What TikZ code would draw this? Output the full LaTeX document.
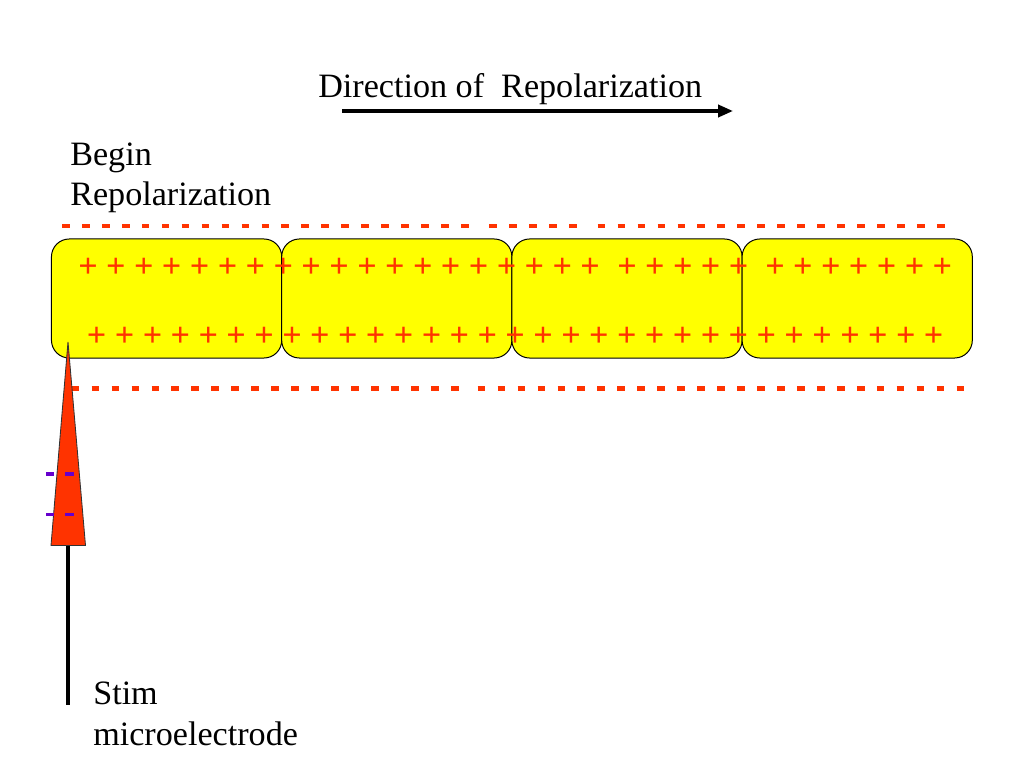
\documentclass[tikz,border=0pt]{standalone}
\usepackage{fontspec}
\setmainfont{Liberation Serif}
\usetikzlibrary{arrows.meta}
\definecolor{plusred}{HTML}{FF3300}
\definecolor{cellyellow}{HTML}{FFFF00}
\definecolor{minusblue}{HTML}{6600CC}
\newcommand{\slidefont}{\fontsize{24}{28.5}\selectfont}
\begin{document}
\begin{tikzpicture}[x=0.703125pt,y=-0.703125pt,
    font=\slidefont,
    cell/.style={draw=black,line width=0.7pt,fill=cellyellow,rounded corners=12.5pt,
      minimum width=161.9pt,minimum height=83.7pt,inner sep=0pt},
    charge/.style={text=plusred,font=\slidefont\bfseries,inner sep=0pt},
    label/.style={anchor=base west,align=left,inner sep=0pt},
    membrane/.style={draw=plusred,line width=3pt,dash pattern=on 5.4pt off 8.63pt}]
  \useasboundingbox (0,0) rectangle (1024,768);

  % title and direction arrow
  \node[label] (dir) at (318,97.5) {Direction of\ \ Repolarization};
  \coordinate (dstart) at (342,111);
  \coordinate (dend) at (733,111);
  \draw[line width=2.4pt,-{Triangle[length=10.5pt,width=8.5pt]}] (dstart) -- (dend);

  \node[label] (begin) at (70,206) {Begin\\Repolarization};

  % the four cells
  \node[cell] (c1) at (166.6,298.5) {};
  \node[cell] (c2) at (396.8,298.5) {};
  \node[cell] (c3) at (627,298.5) {};
  \node[cell] (c4) at (857.2,298.5) {};

  % charges inside
  \foreach \i in {0,...,18}
    \node[charge] (ta\i) at (88+27.9*\i,268) {+};
  \foreach \i in {0,...,4}
    \node[charge] (tb\i) at (627+27.9*\i,268) {+};
  \foreach \i in {0,...,6}
    \node[charge] (tc\i) at (775+27.9*\i,268) {+};
  \foreach \i in {0,...,30}
    \node[charge] (b\i) at (96.7+27.9*\i,336.5) {+};

  % dashes outside
  \draw[membrane] (62,226) -- (470,226);
  \draw[membrane] (489.3,226) -- (577,226);
  \draw[membrane] (597.7,226) -- (945.5,226);
  \draw[membrane] (71.7,388.5) -- (458.5,388.5);
  \draw[membrane] (477.7,388.5) -- (965,388.5);

  % microelectrode
  \draw[black!80,line width=0.6pt,fill=plusred] (68,342) -- (85.5,545.5) -- (51,545.5) -- cycle;
  \draw[line width=2.2pt] (68,545.5) -- (68,705);
  \foreach \y in {474,514.5}
    \foreach \x in {50,69.7}
      \fill[minusblue] (\x-4.3,\y-1.6) rectangle (\x+4.3,\y+1.6);

  \node[label] (stim) at (93,745) {Stim\\microelectrode};
\end{tikzpicture}
\end{document}
